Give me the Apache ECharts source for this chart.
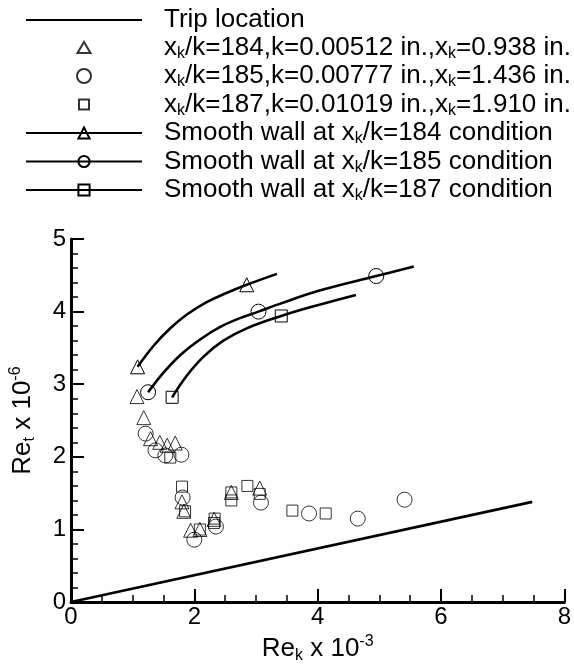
<!DOCTYPE html>
<html>
<head>
<meta charset="utf-8">
<script src="https://cdn.jsdelivr.net/npm/echarts@6/dist/echarts.min.js"></script>
<style>html,body{margin:0;padding:0;background:#fff;}#c{width:574px;height:669px;}</style>
</head>
<body>
<div id="c"></div>
<script>
// ---- data ----
const xTicks = [0, 2, 4, 6, 8];
const yTicks = [0, 1, 2, 3, 4, 5];

const tripLine = [[0, 0], [7.48, 1.38]];

const rough184 = [[1.07,2.83],[1.18,2.54],[1.29,2.25],[1.44,2.20],[1.56,2.16],[1.69,2.19],[1.80,1.38],[1.83,1.25],[1.94,0.99],[2.09,1.00],[2.32,1.14],[2.60,1.51],[3.06,1.57]];
const rough185 = [[1.21,2.32],[1.37,2.09],[1.53,2.02],[1.79,2.03],[1.81,1.44],[2.00,0.86],[2.35,1.04],[3.08,1.37],[3.86,1.22],[4.65,1.15],[5.41,1.41]];
const rough187 = [[1.61,1.99],[1.80,1.59],[1.85,1.25],[2.09,1.00],[2.33,1.15],[2.32,1.09],[2.60,1.51],[2.60,1.40],[2.86,1.60],[3.06,1.49],[3.59,1.26],[4.13,1.22]];

const smooth184 = [[1.08,3.24],[1.34,3.53],[1.61,3.77],[1.88,3.96],[2.20,4.13],[2.53,4.26],[2.85,4.37],[3.34,4.52]];
const smooth185 = [[1.25,2.89],[1.50,3.16],[1.77,3.40],[2.10,3.62],[2.42,3.79],[2.74,3.91],[3.04,4.00],[3.36,4.10],[4.03,4.29],[4.95,4.49],[5.56,4.62]];
const smooth187 = [[1.64,2.82],[1.88,3.12],[2.15,3.38],[2.47,3.60],[2.85,3.77],[3.41,3.94],[3.92,4.07],[4.62,4.23]];
// indices of the smooth-wall points that carry a symbol
const marks184 = [0, 6];
const marks185 = [0, 6, 9];
const marks187 = [0, 5];

const names = [
  'Trip location',
  'x_k/k=184,k=0.00512 in.,x_k=0.938 in.',
  'x_k/k=185,k=0.00777 in.,x_k=1.436 in.',
  'x_k/k=187,k=0.01019 in.,x_k=1.910 in.',
  'Smooth wall at x_k/k=184 condition',
  'Smooth wall at x_k/k=185 condition',
  'Smooth wall at x_k/k=187 condition'
];

// ---- chart ----
const FONT = '"Liberation Sans", Arial, Helvetica, sans-serif';
const hollow = 'rgba(0,0,0,0)';
// legend icon shapes for the scatter entries (box spans the whole legend icon area)
const legendIcons = {
  1: 'path://M0,0 M116,14 M51.5,12.5 L64.5,12.5 L58,1.5 Z',
  3: 'path://M0,0 M116,14 M53,2 L63,2 L63,12 L53,12 Z'
};

function withMarks(pts, marks) {
  return pts.map((p, i) => marks.indexOf(i) >= 0 ? { value: p } : { value: p, symbol: 'none' });
}

function scatter(name, data, symbol, size) {
  return {
    name, type: 'scatter', data, symbol, symbolSize: size,
    itemStyle: { color: hollow, borderColor: '#000', borderWidth: 1 },
    emphasis: { disabled: true }, z: 3
  };
}
function smoothLine(name, data, marks, symbol, size) {
  return {
    name, type: 'line', data: withMarks(data, marks), smooth: 0.4,
    symbol, symbolSize: size, showSymbol: true,
    lineStyle: { color: '#000', width: 2.6 },
    itemStyle: { color: hollow, borderColor: '#000', borderWidth: 1 },
    emphasis: { disabled: true }, z: 2
  };
}

const chart = echarts.init(document.getElementById('c'));
chart.setOption({
  animation: false,
  backgroundColor: '#fff',
  textStyle: { fontFamily: FONT },
  legend: {
    orient: 'vertical', left: 20, top: 2,
    itemWidth: 116, itemHeight: 14, itemGap: 0.5,
    selectedMode: false,
    data: names.map((n, i) => legendIcons[i] ? { name: n, icon: legendIcons[i] } : { name: n }),
    formatter: n => n.replace(/x_k/g, 'x{sub|k}'),
    textStyle: {
      fontFamily: FONT, fontSize: 26, color: '#000', lineHeight: 26,
      padding: [0, 0, 0, 17],
      rich: { sub: { fontFamily: FONT, fontSize: 16, color: '#000', lineHeight: 12, padding: [12, 0, 0, 0] } }
    }
  },
  grid: { left: 70, right: 8, top: 239, bottom: 62 },
  xAxis: {
    type: 'value', min: xTicks[0], max: xTicks[xTicks.length - 1], interval: 2,
    name: 'Re{sub|k} x 10{sup|-3}', nameLocation: 'middle', nameGap: 27,
    nameTextStyle: {
      fontFamily: FONT, fontSize: 26, color: '#000',
      rich: {
        sub: { fontFamily: FONT, fontSize: 16, color: '#000', padding: [14, 0, 0, 0] },
        sup: { fontFamily: FONT, fontSize: 16, color: '#000', padding: [0, 0, 14, 0] }
      }
    },
    axisLine: { show: true, lineStyle: { color: '#000', width: 3 } },
    axisTick: { show: true, inside: true, length: 13, lineStyle: { color: '#000', width: 2 } },
    minorTick: { show: true, splitNumber: 4, length: 7, lineStyle: { color: '#000', width: 1.5 } },
    splitLine: { show: false },
    axisLabel: { color: '#000', fontSize: 24, fontFamily: FONT, margin: 3 }
  },
  yAxis: {
    type: 'value', min: yTicks[0], max: yTicks[yTicks.length - 1], interval: 1,
    name: 'Re{sub|t} x 10{sup|-6}', nameLocation: 'middle', nameGap: 33, nameRotate: 90,
    nameTextStyle: {
      fontFamily: FONT, fontSize: 26, color: '#000',
      rich: {
        sub: { fontFamily: FONT, fontSize: 16, color: '#000', padding: [14, 0, 0, 0] },
        sup: { fontFamily: FONT, fontSize: 16, color: '#000', padding: [0, 0, 14, 0] }
      }
    },
    axisLine: { show: true, lineStyle: { color: '#000', width: 3 } },
    axisTick: { show: true, inside: true, length: 13, lineStyle: { color: '#000', width: 2 } },
    minorTick: { show: true, splitNumber: 5, length: 7, lineStyle: { color: '#000', width: 1.5 } },
    splitLine: { show: false },
    axisLabel: { color: '#000', fontSize: 24, fontFamily: FONT, margin: 5 }
  },
  series: [
    {
      name: names[0], type: 'line', data: tripLine, symbol: 'none',
      lineStyle: { color: '#000', width: 2.6 },
      itemStyle: { color: hollow, borderColor: hollow, borderWidth: 0 },
      emphasis: { disabled: true }, z: 2
    },
    scatter(names[1], rough184, 'triangle', 14),
    scatter(names[2], rough185, 'circle', 15),
    scatter(names[3], rough187, 'rect', 11),
    smoothLine(names[4], smooth184, marks184, 'triangle', 14),
    smoothLine(names[5], smooth185, marks185, 'circle', 15),
    smoothLine(names[6], smooth187, marks187, 'rect', 12)
  ]
});
</script>
</body>
</html>
